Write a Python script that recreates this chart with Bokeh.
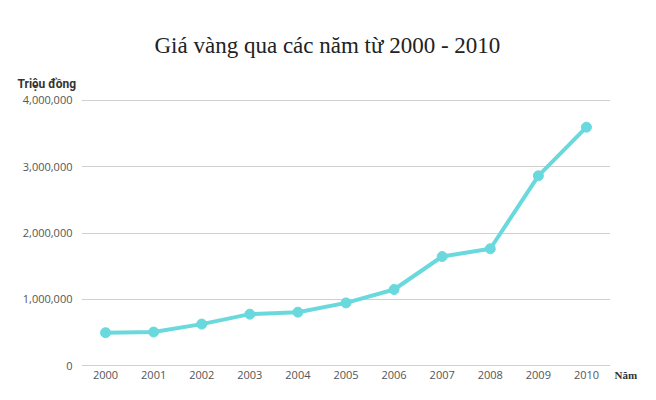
from bokeh.plotting import figure
from bokeh.models import Range1d, FixedTicker, NumeralTickFormatter, Title, LinearAxis
from bokeh.embed import file_html
from bokeh.resources import INLINE

years = [2000, 2001, 2002, 2003, 2004, 2005, 2006, 2007, 2008, 2009, 2010]
prices = [495000, 505000, 625000, 775000, 805000, 945000, 1147000, 1645000, 1762000, 2863000, 3597000]
y_ticks = [0, 1000000, 2000000, 3000000, 4000000]

p = figure(width=640, height=384, output_backend="svg", toolbar_location=None,
           x_range=Range1d(1999.5, 2010.5), y_range=Range1d(-30000, 4030000),
           min_border_left=81, min_border_right=27, min_border_top=98, min_border_bottom=17)
p.title = None
p.outline_line_color = None
p.background_fill_color = "white"
p.border_fill_color = "white"

p.line(years, prices, line_color="#6ad9dd", line_width=4)
p.scatter(years, prices, size=10, fill_color="#6ad9dd", line_color="#6ad9dd")

p.xgrid.grid_line_color = None
p.ygrid.grid_line_color = "#d0d0d0"
p.ygrid.grid_line_width = 1.2
p.ygrid.ticker = FixedTicker(ticks=y_ticks)

for ax in (p.xaxis[0], p.yaxis[0]):
    ax.axis_line_color = None
    ax.major_tick_line_color = None
    ax.minor_tick_line_color = None
    ax.major_tick_out = 0
    ax.major_tick_in = 0
    ax.major_label_text_font = "Open Sans"
    ax.major_label_text_font_size = "11px"
    ax.major_label_text_color = "#555555"

p.xaxis.ticker = FixedTicker(ticks=years)
p.xaxis.major_label_standoff = 3
p.yaxis.ticker = FixedTicker(ticks=y_ticks)
p.yaxis.formatter = NumeralTickFormatter(format="0,0")
p.yaxis.major_label_standoff = 9

# "Năm" sits just right of the zero line, a little below it
nam = LinearAxis(ticker=FixedTicker(ticks=[-29000]), major_label_overrides={-29000: "\nNăm"},
                 axis_line_color=None, major_tick_line_color=None, minor_tick_line_color=None,
                 major_tick_out=0, major_tick_in=0, major_label_standoff=4,
                 major_label_text_font="Liberation Serif", major_label_text_font_size="11px",
                 major_label_text_font_style="bold", major_label_text_color="#333333")
p.add_layout(nam, "right")

p.add_layout(Title(text="Triệu đồng", align="left", offset=-64, standoff=16,
                   text_font="Roboto", text_font_size="12px", text_font_style="bold",
                   text_color="#333333"), "above")
p.add_layout(Title(text="Giá vàng qua các năm từ 2000 - 2010", align="left", offset=73, standoff=17,
                   text_font="Liberation Serif", text_font_size="23px", text_font_style="normal",
                   text_color="#222222"), "above")

open("out.html", "w").write(file_html(p, INLINE))
